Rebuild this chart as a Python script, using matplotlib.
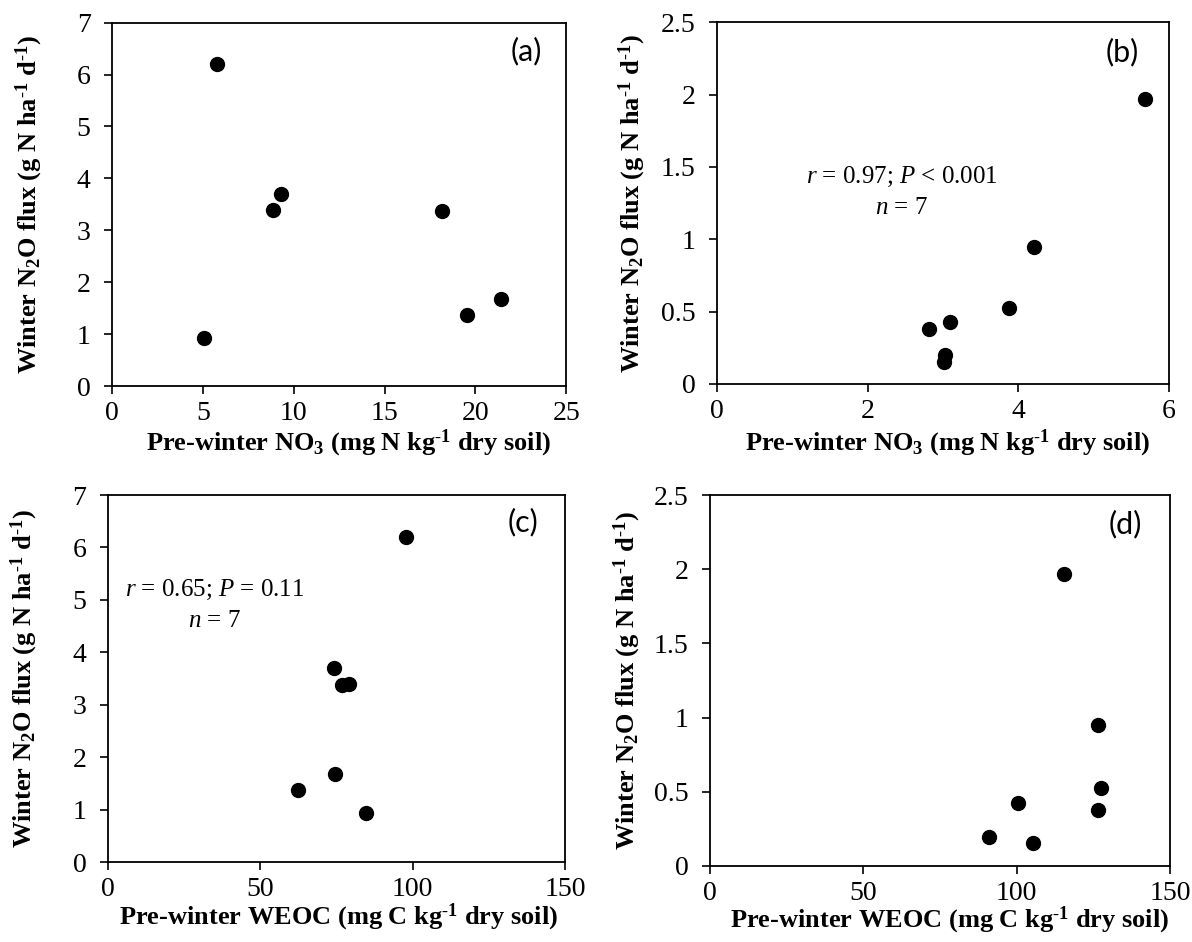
import numpy as np
import matplotlib
matplotlib.use("Agg")
import matplotlib.pyplot as plt
from matplotlib.ticker import StrMethodFormatter

plt.rcParams['font.family'] = 'Liberation Serif'
plt.rcParams['mathtext.fontset'] = 'custom'
plt.rcParams['mathtext.rm'] = 'Liberation Serif'
plt.rcParams['mathtext.it'] = 'Liberation Serif:italic'
plt.rcParams['mathtext.bf'] = 'Liberation Serif:bold'

# winter N2O flux vs pre-winter soil NO3 / WEOC, two sets of 7 plots
flux_a = [6.20, 3.71, 3.40, 3.37, 1.67, 1.38, 0.93]
no3_a = [5.75, 9.30, 8.87, 18.15, 21.4, 19.56, 5.08]
weoc_c = [97.8, 74.1, 79.2, 76.9, 74.6, 62.5, 84.6]

flux_b = [1.97, 0.95, 0.527, 0.426, 0.378, 0.198, 0.154]
no3_b = [5.69, 4.21, 3.88, 3.10, 2.82, 3.03, 3.01]
weoc_d = [115.5, 126.4, 127.4, 100.6, 126.4, 91.0, 105.5]

ylab = r'Winter N$_\mathbf{2}$O flux (g N ha$^{\text{-}\mathbf{1}}$ d$^{\text{-}\mathbf{1}}$)'
xlab_no3 = r'Pre-winter NO$_\mathbf{3}$ (mg N kg$^{\text{-}\mathbf{1}}$ dry soil)'
xlab_weoc = r'Pre-winter WEOC (mg C kg$^{\text{-}\mathbf{1}}$ dry soil)'

fig = plt.figure(figsize=(11.92, 9.42), dpi=100)

panels = [
    # rect, x, y, xmax, xstep, ymax, ystep, xlabel, tag, tag pos, xlabel pos, ylabel x
    ([0.094, 0.590, 0.381, 0.386], no3_a, flux_a, 25, 5, 7, 1, xlab_no3, '(a)', (0.912, 0.923), (0.52, -0.157), -0.183),
    ([0.6015, 0.5924, 0.379, 0.384], no3_b, flux_b, 6, 2, 2.5, 0.5, xlab_no3, '(b)', (0.898, 0.917), (0.51, -0.163), -0.188),
    ([0.0906, 0.0849, 0.3834, 0.3896], weoc_c, flux_a, 150, 50, 7, 1, xlab_weoc, '(c)', (0.908, 0.926), (0.505, -0.150), -0.184),
    ([0.5956, 0.0807, 0.3859, 0.3938], weoc_d, flux_b, 150, 50, 2.5, 0.5, xlab_weoc, '(d)', (0.904, 0.922), (0.52, -0.1456), -0.18),
]

axes = []
for rect, x, y, xmax, xstep, ymax, ystep, xlab, tag, tagxy, xlc, ylc in panels:
    ax = fig.add_axes(rect)
    ax.plot(x, y, 'o', color='black', markersize=10, linestyle='none')
    ax.set_xlim(0, xmax)
    ax.set_ylim(0, ymax)
    ax.set_xticks(np.arange(0, xmax + xstep / 2, xstep))
    ax.set_yticks(np.arange(0, ymax + ystep / 2, ystep))
    ax.xaxis.set_major_formatter(StrMethodFormatter('{x:g}'))
    ax.yaxis.set_major_formatter(StrMethodFormatter('{x:g}'))
    ax.tick_params(direction='out', length=5.5, width=1.2, labelsize=20, top=False, right=False)
    ax.tick_params(axis='x', pad=5.5)
    ax.tick_params(axis='y', pad=10)
    for s in ax.spines.values():
        s.set_linewidth(1.3)
    ax.set_xlabel(xlab, fontsize=19, fontweight='bold')
    ax.set_ylabel(ylab, fontsize=19, fontweight='bold')
    ax.xaxis.set_label_coords(*xlc)
    ax.xaxis.label.set_verticalalignment('center')
    ax.yaxis.set_label_coords(ylc, 0.5)
    ax.yaxis.label.set_verticalalignment('center')
    ax.text(tagxy[0], tagxy[1], tag, transform=ax.transAxes, fontsize=22,
            family='Lato', ha='center', va='center')
    axes.append(ax)

axes[1].text(2.45, 1.43, r'$r$ = 0.97; $P$ < 0.001', fontsize=18, ha='center', va='center')
axes[1].text(2.45, 1.213, r'$n$ = 7', fontsize=18, ha='center', va='center')
axes[2].text(35, 5.19, r'$r$ = 0.65; $P$ = 0.11', fontsize=18, ha='center', va='center')
axes[2].text(35, 4.59, r'$n$ = 7', fontsize=18, ha='center', va='center')

fig.savefig('out.png', dpi=100)
